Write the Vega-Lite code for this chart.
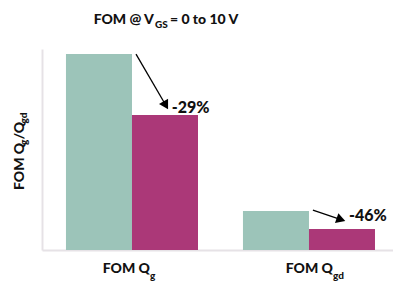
{
  "$schema": "https://vega.github.io/schema/vega-lite/v6.json",
  "width": 351,
  "height": 201,
  "autosize": "none",
  "padding": {"left": 42, "top": 49, "right": 0, "bottom": 32},
  "background": "white",
  "config": {
    "view": {"stroke": null},
    "axis": {"labels": false, "ticks": false, "grid": false, "domain": true, "domainColor": "#e6e2e6", "domainWidth": 2},
    "text": {"font": "Lato", "fontWeight": 900, "color": "#111111"}
  },
  "datasets": {
    "bars": [
      {"metric": "FOM Qg", "device": "Previous", "value": 100},
      {"metric": "FOM Qg", "device": "New", "value": 68.9},
      {"metric": "FOM Qgd", "device": "Previous", "value": 19.9},
      {"metric": "FOM Qgd", "device": "New", "value": 10.7}
    ],
    "arrows": [
      {"metric": "FOM Qg", "label": "-29%", "fromX": 0.523, "fromY": 100, "toX": 0.692, "toY": 73.9},
      {"metric": "FOM Qgd", "label": "-46%", "fromX": 1.526, "fromY": 20.4, "toX": 1.685, "toY": 15.5}
    ],
    "one": [{}]
  },
  "layer": [
    {
      "layer": [
        {
          "data": {"name": "bars"},
          "mark": {"type": "bar"},
          "encoding": {
            "x": {"field": "metric", "type": "nominal", "sort": ["FOM Qg", "FOM Qgd"], "scale": {"paddingInner": 0.254, "paddingOuter": 0.1186, "align": 0.571}, "axis": {"title": null}},
            "xOffset": {"field": "device", "type": "nominal", "sort": ["Previous", "New"], "scale": {"paddingInner": 0, "paddingOuter": 0}},
            "y": {"field": "value", "type": "quantitative", "scale": {"domain": [0, 102.6], "nice": false}, "axis": {"title": null}},
            "color": {"field": "device", "type": "nominal", "scale": {"domain": ["Previous", "New"], "range": ["#9cc4b9", "#ab3878"]}, "legend": null}
          }
        },
        {
          "data": {"name": "one"},
          "mark": {"type": "text", "align": "right", "baseline": "alphabetic", "dx": 18, "dy": 23, "fontSize": 14},
          "encoding": {"x": {"datum": "FOM Qg", "type": "nominal"}, "y": {"datum": 0, "type": "quantitative"}, "text": {"value": "FOM Q"}}
        },
        {
          "data": {"name": "one"},
          "mark": {"type": "text", "align": "left", "baseline": "alphabetic", "dx": 18, "dy": 29, "fontSize": 10},
          "encoding": {"x": {"datum": "FOM Qg", "type": "nominal"}, "y": {"datum": 0, "type": "quantitative"}, "text": {"value": "g"}}
        },
        {
          "data": {"name": "one"},
          "mark": {"type": "text", "align": "right", "baseline": "alphabetic", "dx": 24, "dy": 23, "fontSize": 14},
          "encoding": {"x": {"datum": "FOM Qgd", "type": "nominal"}, "y": {"datum": 0, "type": "quantitative"}, "text": {"value": "FOM Q"}}
        },
        {
          "data": {"name": "one"},
          "mark": {"type": "text", "align": "left", "baseline": "alphabetic", "dx": 24, "dy": 29, "fontSize": 10},
          "encoding": {"x": {"datum": "FOM Qgd", "type": "nominal"}, "y": {"datum": 0, "type": "quantitative"}, "text": {"value": "gd"}}
        }
      ]
    },
    {
      "layer": [
        {
          "data": {"name": "arrows"},
          "mark": {"type": "rule", "strokeWidth": 1.3, "color": "#000000"},
          "encoding": {
            "x": {"field": "fromX", "type": "quantitative", "scale": {"domain": [-0.01, 1.98], "nice": false, "zero": false}, "axis": null},
            "x2": {"field": "toX"},
            "y": {"field": "fromY", "type": "quantitative", "axis": {"title": null}},
            "y2": {"field": "toY"}
          }
        },
        {
          "data": {"name": "arrows"},
          "transform": [{"filter": "datum.label === '-29%'"}],
          "mark": {"type": "point", "shape": "triangle-up", "filled": true, "size": 110, "angle": 150, "color": "#000000", "opacity": 1},
          "encoding": {
            "x": {"field": "toX", "type": "quantitative", "scale": {"domain": [-0.01, 1.98], "nice": false, "zero": false}, "axis": null},
            "y": {"field": "toY", "type": "quantitative", "axis": {"title": null}}
          }
        },
        {
          "data": {"name": "arrows"},
          "transform": [{"filter": "datum.label === '-46%'"}],
          "mark": {"type": "point", "shape": "triangle-up", "filled": true, "size": 110, "angle": 109, "color": "#000000", "opacity": 1},
          "encoding": {
            "x": {"field": "toX", "type": "quantitative", "scale": {"domain": [-0.01, 1.98], "nice": false, "zero": false}, "axis": null},
            "y": {"field": "toY", "type": "quantitative", "axis": {"title": null}}
          }
        },
        {
          "data": {"name": "arrows"},
          "transform": [{"filter": "datum.label === '-29%'"}],
          "mark": {"type": "text", "align": "left", "baseline": "alphabetic", "dx": 6, "dy": 8, "fontSize": 16},
          "encoding": {
            "x": {"field": "toX", "type": "quantitative", "scale": {"domain": [-0.01, 1.98], "nice": false, "zero": false}, "axis": null},
            "y": {"field": "toY", "type": "quantitative", "axis": {"title": null}},
            "text": {"field": "label"}
          }
        },
        {
          "data": {"name": "arrows"},
          "transform": [{"filter": "datum.label === '-46%'"}],
          "mark": {"type": "text", "align": "left", "baseline": "alphabetic", "dx": 8, "dy": 1.5, "fontSize": 16},
          "encoding": {
            "x": {"field": "toX", "type": "quantitative", "scale": {"domain": [-0.01, 1.98], "nice": false, "zero": false}, "axis": null},
            "y": {"field": "toY", "type": "quantitative", "axis": {"title": null}},
            "text": {"field": "label"}
          }
        },
        {
          "data": {"name": "one"},
          "mark": {"type": "text", "align": "right", "baseline": "alphabetic", "dx": 22, "dy": -25, "fontSize": 14},
          "encoding": {"x": {"datum": 0.5, "type": "quantitative", "axis": null}, "y": {"datum": 102.6, "type": "quantitative"}, "text": {"value": "FOM @ V"}}
        },
        {
          "data": {"name": "one"},
          "mark": {"type": "text", "align": "left", "baseline": "alphabetic", "dx": 23, "dy": -21, "fontSize": 10},
          "encoding": {"x": {"datum": 0.5, "type": "quantitative", "axis": null}, "y": {"datum": 102.6, "type": "quantitative"}, "text": {"value": "GS"}}
        },
        {
          "data": {"name": "one"},
          "mark": {"type": "text", "align": "left", "baseline": "alphabetic", "dx": 38, "dy": -25, "fontSize": 14},
          "encoding": {"x": {"datum": 0.5, "type": "quantitative", "axis": null}, "y": {"datum": 102.6, "type": "quantitative"}, "text": {"value": "= 0 to 10 V"}}
        },
        {
          "data": {"name": "one"},
          "mark": {"type": "text", "align": "left", "baseline": "alphabetic", "angle": 270, "dx": 0, "dy": -18, "fontSize": 14},
          "encoding": {"x": {"datum": -0.01, "type": "quantitative", "axis": null}, "y": {"datum": 30.6, "type": "quantitative"}, "text": {"value": "FOM Q"}}
        },
        {
          "data": {"name": "one"},
          "mark": {"type": "text", "align": "left", "baseline": "alphabetic", "angle": 270, "dx": 45, "dy": -15, "fontSize": 10},
          "encoding": {"x": {"datum": -0.01, "type": "quantitative", "axis": null}, "y": {"datum": 30.6, "type": "quantitative"}, "text": {"value": "g"}}
        },
        {
          "data": {"name": "one"},
          "mark": {"type": "text", "align": "left", "baseline": "alphabetic", "angle": 270, "dx": 50.5, "dy": -18, "fontSize": 14},
          "encoding": {"x": {"datum": -0.01, "type": "quantitative", "axis": null}, "y": {"datum": 30.6, "type": "quantitative"}, "text": {"value": "/Q"}}
        },
        {
          "data": {"name": "one"},
          "mark": {"type": "text", "align": "left", "baseline": "alphabetic", "angle": 270, "dx": 66.5, "dy": -15, "fontSize": 10},
          "encoding": {"x": {"datum": -0.01, "type": "quantitative", "axis": null}, "y": {"datum": 30.6, "type": "quantitative"}, "text": {"value": "gd"}}
        }
      ]
    }
  ],
  "resolve": {"scale": {"x": "independent"}}
}
